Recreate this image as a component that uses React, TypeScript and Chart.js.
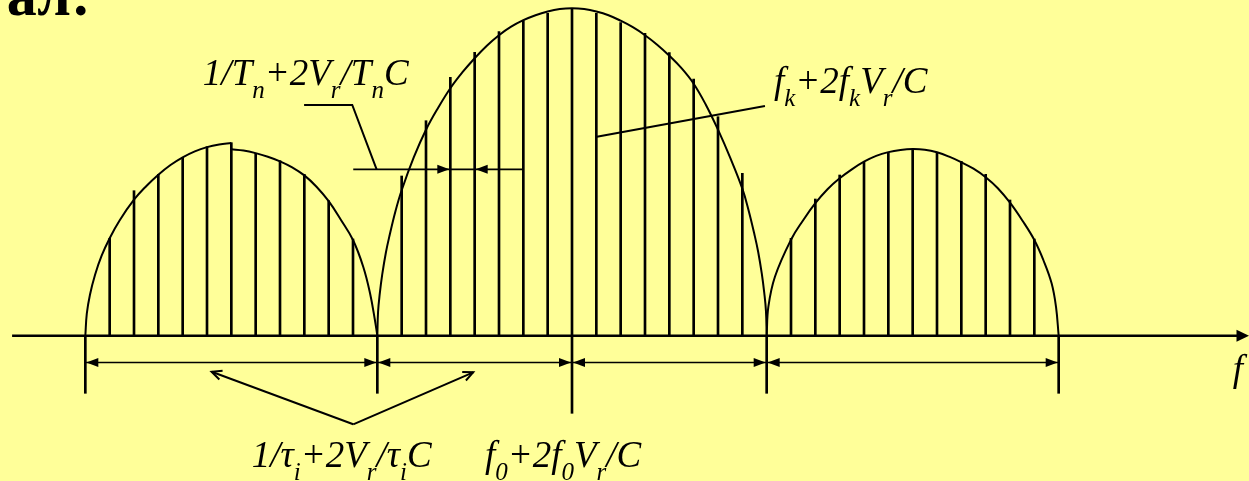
import React, { useEffect, useRef } from "react";
import { Chart, registerables } from "chart.js";
Chart.register(...registerables);

const BG = "#FFFF99";
const INK = "#000000";

// frequency unit = one line spacing (1/T_n), 0 = f0 ; amplitude in arbitrary units
const X_MIN = -23.507;
const X_MAX = 27.822;
const Y_MIN = -145.3;
const Y_MAX = 335.7;

// spectral lines
const leftLineFreq = [-19, -18, -17, -16, -15, -14, -13, -12, -11, -10, -9];
const leftLineAmp = [97.4, 145, 161.4, 178.4, 189, 193, 182.4, 175, 161.4, 135, 96.7];
const mainLineFreq = [-7, -6, -5, -4, -3, -2, -1, 0, 1, 2, 3, 4, 5, 6, 7];
const mainLineAmp = [159.7, 215, 258.4, 283.4, 304, 315, 322.4, 327.4, 322.4, 313, 302.4, 283, 256.7, 219, 162.4];
const rightLineFreq = [9, 10, 11, 12, 13, 14, 15, 16, 17, 18, 19];
const rightLineAmp = [97.4, 136.7, 160.7, 173.4, 183.4, 186.4, 183.4, 174.4, 161.4, 135.7, 96.7];

// lobe boundaries (extension lines below the axis)
const markFreq = [-20, -8, 0, 8, 20];
const markLow = [-57.6, -57.6, -77.6, -57.6, -57.6];

// envelopes
const envLeftAFreq = [-20.0, -19.94, -19.81, -19.6, -19.33, -19.0, -18.58, -18.0, -17.5, -17.0, -16.5, -16.0, -15.5, -15.0, -14.5, -14.0];
const envLeftAAmp = [0, 22, 41, 61, 80, 97.5, 115.7, 136, 149.5, 161, 170.7, 178.4, 184.4, 188.6, 191.2, 192.6];
const envLeftBFreq = [-14.0, -13.5, -13.0, -12.5, -12.0, -11.5, -11.0, -10.5, -10.0, -9.5, -9.0, -8.58, -8.3, -8.1, -8.0];
const envLeftBAmp = [186.4, 185.2, 182.6, 179, 174.4, 168.4, 160.3, 149, 134.5, 116, 95.7, 69, 42.4, 15.7, 0];
const envMainFreq = [-8.0, -7.97, -7.9, -7.8, -7.65, -7.5, -7.25, -7.0, -6.5, -6.0, -5.5, -5.0, -4.5, -4.0, -3.5, -3.0, -2.5, -2.0, -1.5, -1.0, -0.5, 0,
  0.5, 1.0, 1.5, 2.0, 2.5, 3.0, 3.5, 4.0, 4.5, 5.0, 5.5, 6.0, 6.5, 7.0, 7.25, 7.5, 7.65, 7.8, 7.9, 7.97, 8.0];
const envMainAmp = [0, 24, 42, 61, 83, 100, 125, 145.5, 178.5, 206, 228, 247.5, 263.5, 277.5, 290, 300.5, 309, 315.5, 320.5, 324.2, 326.6, 327.4,
  326.6, 324.2, 320.5, 315, 308.5, 300.5, 291, 280, 267.5, 252, 231, 206, 178, 147, 126, 101, 84, 62, 43, 25, 0];
const envRightFreq = [8.0, 8.07, 8.34, 9.0, 9.5, 10.0, 10.5, 11.0, 11.5, 12.0, 12.5, 13.0, 13.5, 14.0, 14.5, 15.0, 15.5, 16.0, 16.5,
  17.0, 17.5, 18.0, 18.5, 19.0, 19.37, 19.71, 19.89, 20.0];
const envRightAmp = [0, 29, 59, 96, 115.5, 132.5, 146.5, 157.4, 166.4, 174, 179.8, 183.6, 185.8, 186.7, 186, 183.4, 179, 173.4, 167,
  158.5, 147.5, 133, 115.5, 95.7, 75.7, 52.4, 29, 0];

// frequency axis
const axisFreq = [-23.01, 27.4];
const axisTip = 27.822;

// annotations (data coordinates)
const dimLevel = -26.8;
const dimSegments: [number, number][] = [[-20, -8], [-8, 0], [0, 8], [8, 20]];
const leaderTn: [number, number][] = [[-11.01, 230.7], [-9.03, 230.7], [-8.03, 166.4]];
const spacingLine: [number, number] = [-8.99, -2.0];
const spacingTips: [number, number] = [-5, -4];
const spacingLevel = 166.4;
const leaderFk: [number, number][] = [[1.02, 199], [7.93, 229.7]];
const vApex: [number, number] = [-8.99, -88.6];
const vEnds: [number, number][] = [[-14.81, -36], [-4.06, -36.6]];

type Seg = [string, boolean];
const labelTn: Seg[] = [["1/T", false], ["n", true], ["+2V", false], ["r", true], ["/T", false], ["n", true], ["C", false]];
const labelFk: Seg[] = [["f", false], ["k", true], ["+2f", false], ["k", true], ["V", false], ["r", true], ["/C", false]];
const labelTau: Seg[] = [["1/τ", false], ["i", true], ["+2V", false], ["r", true], ["/τ", false], ["i", true], ["C", false]];
const labelF0: Seg[] = [["f", false], ["0", true], ["+2f", false], ["0", true], ["V", false], ["r", true], ["/C", false]];
const labelAxis: Seg[] = [["f", false]];
const labelAnchors: { segs: Seg[]; at: [number, number] }[] = [
  { segs: labelTn, at: [-15.17, 250.7] },
  { segs: labelFk, at: [8.3, 242.4] },
  { segs: labelTau, at: [-13.16, -131] },
  { segs: labelF0, at: [-3.58, -131] },
  { segs: labelAxis, at: [27.15, -45.3] },
];
const titleText = "ал:";

const pts = (xs: number[], ys: number[]) => xs.map((x, i) => ({ x, y: ys[i] }));

const MAIN_FONT = 'italic 37px "Liberation Serif", "Times New Roman", serif';
const SUB_FONT = 'italic 25px "Liberation Serif", "Times New Roman", serif';

function drawRich(ctx: CanvasRenderingContext2D, x: number, y: number, segs: Seg[]) {
  let cx = x;
  for (const [t, sub] of segs) {
    ctx.font = sub ? SUB_FONT : MAIN_FONT;
    ctx.fillText(t, cx, sub ? y + 13 : y);
    cx += ctx.measureText(t).width;
  }
}

function filledArrow(ctx: CanvasRenderingContext2D, tx: number, ty: number, dx: number, dy: number, len: number, hw: number) {
  const n = Math.hypot(dx, dy);
  const ux = dx / n, uy = dy / n;
  const bx = tx - ux * len, by = ty - uy * len;
  ctx.beginPath();
  ctx.moveTo(tx, ty);
  ctx.lineTo(bx - uy * hw, by + ux * hw);
  ctx.lineTo(bx + uy * hw, by - ux * hw);
  ctx.closePath();
  ctx.fill();
}

function openArrow(ctx: CanvasRenderingContext2D, tx: number, ty: number, fx: number, fy: number, len: number) {
  const ang = Math.atan2(ty - fy, tx - fx);
  const a = (25 * Math.PI) / 180;
  ctx.beginPath();
  ctx.moveTo(tx - len * Math.cos(ang - a), ty - len * Math.sin(ang - a));
  ctx.lineTo(tx, ty);
  ctx.lineTo(tx - len * Math.cos(ang + a), ty - len * Math.sin(ang + a));
  ctx.stroke();
}

export default function App() {
  const ref = useRef<HTMLCanvasElement>(null);
  useEffect(() => {
    document.body.style.margin = "0";
    document.body.style.background = BG;
    const canvas = ref.current!;

    const annot = {
      id: "annot",
      afterDatasetsDraw(chart: any) {
        const ctx: CanvasRenderingContext2D = chart.ctx;
        const xs = chart.scales.x, ys = chart.scales.y;
        const X = (v: number) => xs.getPixelForValue(v);
        const Y = (v: number) => ys.getPixelForValue(v);
        ctx.save();
        ctx.strokeStyle = INK;
        ctx.fillStyle = INK;
        ctx.lineCap = "butt";

        // axis arrowhead
        filledArrow(ctx, X(axisTip), Y(0), 1, 0, 12.5, 6);

        // dimension lines
        ctx.lineWidth = 1.5;
        for (const [a, b] of dimSegments) {
          ctx.beginPath();
          ctx.moveTo(X(a), Y(dimLevel));
          ctx.lineTo(X(b), Y(dimLevel));
          ctx.stroke();
          filledArrow(ctx, X(a) + 1, Y(dimLevel), -1, 0, 12, 4.5);
          filledArrow(ctx, X(b) - 1, Y(dimLevel), 1, 0, 12, 4.5);
        }

        // leader for line spacing
        ctx.lineWidth = 2;
        ctx.beginPath();
        leaderTn.forEach(([u, h], i) => (i ? ctx.lineTo(X(u), Y(h)) : ctx.moveTo(X(u), Y(h))));
        ctx.stroke();
        ctx.lineWidth = 1.8;
        ctx.beginPath();
        ctx.moveTo(X(spacingLine[0]), Y(spacingLevel));
        ctx.lineTo(X(spacingLine[1]), Y(spacingLevel));
        ctx.stroke();
        filledArrow(ctx, X(spacingTips[0]) - 1, Y(spacingLevel), 1, 0, 12, 4.5);
        filledArrow(ctx, X(spacingTips[1]) + 1, Y(spacingLevel), -1, 0, 12, 4.5);

        // leader for f_k
        ctx.lineWidth = 2;
        ctx.beginPath();
        ctx.moveTo(X(leaderFk[0][0]), Y(leaderFk[0][1]));
        ctx.lineTo(X(leaderFk[1][0]), Y(leaderFk[1][1]));
        ctx.stroke();

        // V arrows
        ctx.lineWidth = 2;
        for (const [u, h] of vEnds) {
          ctx.beginPath();
          ctx.moveTo(X(vApex[0]), Y(vApex[1]));
          ctx.lineTo(X(u), Y(h));
          ctx.stroke();
          openArrow(ctx, X(u), Y(h), X(vApex[0]), Y(vApex[1]), 11);
        }

        // labels
        ctx.textBaseline = "alphabetic";
        ctx.textAlign = "left";
        for (const l of labelAnchors) drawRich(ctx, X(l.at[0]), Y(l.at[1]), l.segs);

        // title fragment (cut off by the top edge)
        ctx.font = 'bold 60px "Liberation Serif", "Times New Roman", serif';
        ctx.textAlign = "right";
        ctx.fillText(titleText, 91, 15);
        ctx.restore();
      },
    };

    const lineDs = (xs: number[], ys: number[], w = 2) => ({
      type: "line" as const,
      data: pts(xs, ys),
      borderColor: INK,
      borderWidth: w,
      pointRadius: 0,
      tension: 0.4,
      fill: false,
    });
    const barDs = (data: any[], w: number) => ({
      type: "bar" as const,
      data,
      backgroundColor: INK,
      borderWidth: 0,
      barThickness: w,
      grouped: false,
    });

    const chart = new Chart(canvas, {
      type: "line",
      data: {
        datasets: [
          lineDs(envLeftAFreq, envLeftAAmp),
          lineDs(envLeftBFreq, envLeftBAmp),
          lineDs(envMainFreq, envMainAmp),
          lineDs(envRightFreq, envRightAmp),
          { ...lineDs(axisFreq, [0, 0], 2.6), tension: 0 },
          barDs(pts(leftLineFreq, leftLineAmp), 2),
          barDs(pts(mainLineFreq, mainLineAmp), 2),
          barDs(pts(rightLineFreq, rightLineAmp), 2),
          barDs(markFreq.map((x, i) => ({ x, y: [markLow[i], 0] })), 2),
        ] as any,
      },
      options: {
        responsive: false,
        animation: false,
        events: [],
        layout: { padding: 0 },
        plugins: { legend: { display: false }, tooltip: { enabled: false }, title: { display: false } },
        scales: {
          x: { type: "linear", min: X_MIN, max: X_MAX, display: false, offset: false, grid: { display: false } },
          y: { type: "linear", min: Y_MIN, max: Y_MAX, display: false, grid: { display: false } },
        },
      } as any,
      plugins: [annot],
    });
    return () => chart.destroy();
  }, []);
  return (
    <div style={{ width: 1249, height: 481, background: BG }}>
      <canvas ref={ref} width={1249} height={481} style={{ display: "block" }} />
    </div>
  );
}
